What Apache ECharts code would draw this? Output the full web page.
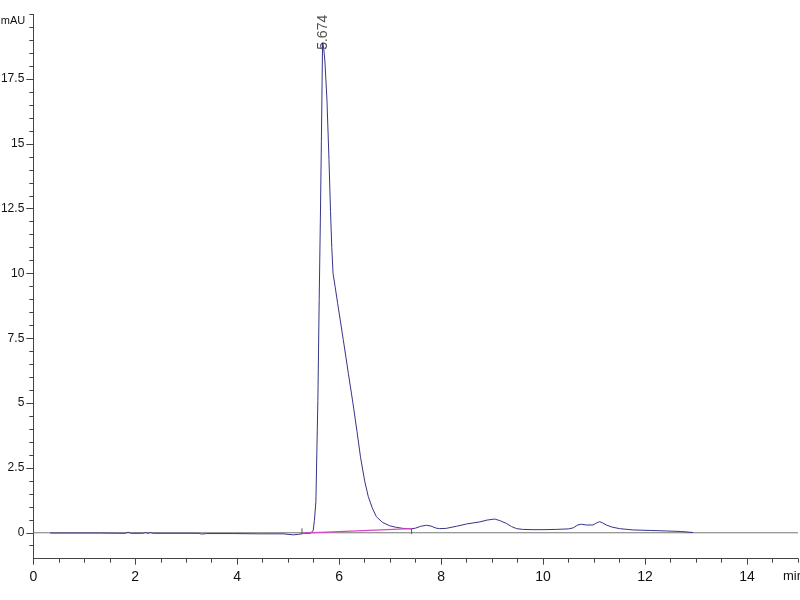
<!DOCTYPE html>
<html>
<head>
<meta charset="utf-8">
<script src="https://cdn.jsdelivr.net/npm/echarts@6/dist/echarts.min.js"></script>
<style>html,body{margin:0;padding:0;background:#fff}#c{width:800px;height:600px}</style>
</head>
<body>
<div id="c"></div>
<script>
// ---- data ----
var traceData = [
  [0.33,-0.01],[0.8,-0.01],[1.3,-0.01],[1.8,-0.02],[1.86,0.02],[1.92,-0.02],[2.15,-0.02],[2.2,0.01],[2.25,-0.02],[2.3,0.01],[2.35,-0.02],
  [2.8,-0.02],[3.25,-0.02],[3.3,-0.05],[3.4,-0.03],[3.9,-0.03],[4.4,-0.04],[4.43,-0.01],[4.46,-0.04],[4.9,-0.04],[5.1,-0.08],[5.2,-0.06],
  [5.3,-0.03],[5.43,-0.02],
  [5.46,0.0],[5.49,0.08],[5.514,0.48],[5.543,1.2],[5.563,3.2],[5.582,5.1],[5.608,9.0],[5.631,12.1],[5.651,15.1],[5.665,17.4],[5.674,18.9],
  [5.69,18.8],[5.72,18.2],[5.76,16.7],[5.80,14.4],[5.83,12.4],[5.855,11.0],[5.88,10.0],[5.92,9.5],[5.97,8.85],[6.08,7.45],[6.18,6.15],[6.27,5.0],[6.35,3.9],
  [6.42,2.9],[6.5,2.0],[6.57,1.4],[6.65,0.95],[6.73,0.62],[6.85,0.4],[6.99,0.27],[7.12,0.21],[7.25,0.17],[7.41,0.15],
  [7.5,0.18],[7.6,0.25],[7.71,0.29],[7.8,0.26],[7.9,0.18],[7.97,0.16],[8.1,0.17],[8.3,0.25],[8.5,0.34],[8.76,0.42],[8.9,0.49],
  [9.05,0.53],[9.15,0.47],[9.28,0.36],[9.38,0.24],[9.48,0.16],[9.6,0.13],[9.8,0.12],[10.0,0.12],[10.26,0.13],[10.5,0.15],[10.59,0.19],
  [10.68,0.3],[10.75,0.33],[10.85,0.3],[10.98,0.3],[11.05,0.38],[11.11,0.43],[11.17,0.38],[11.24,0.3],[11.35,0.22],[11.5,0.16],
  [11.76,0.11],[12.1,0.09],[12.42,0.07],[12.7,0.05],[12.94,0.01]
];
var zeroLine = [[0,0],[15,0]];
var integrationBaseline = [[5.27,-0.01],[7.42,0.16]];
var peakStartMark = [[5.27,-0.03],[5.27,0.17]];
var peakEndMark = [[7.42,0.15],[7.42,-0.04]];
var peakLabelPoint = [[5.674,18.9]];
var peakLabelText = '5.674';

var xTickLabels = [0,2,4,6,8,10,12,14];
var xMinorTicks = [0.5,1,1.5,2.5,3,3.5,4.5,5,5.5,6.5,7,7.5,8.5,9,9.5,10.5,11,11.5,12.5,13,13.5,14.5,15];
var yTickLabels = [0,2.5,5,7.5,10,12.5,15,17.5];
var yMinorTicks = [-0.5,0.5,1,1.5,2,3,3.5,4,4.5,5.5,6,6.5,7,8,8.5,9,9.5,10.5,11,11.5,12,13,13.5,14,14.5,15.5,16,16.5,17,18,18.5,19,19.5,20];

var labelFont = "'Liberation Sans Narrow','Liberation Sans',sans-serif";
var axisColor = '#444';

var chart = echarts.init(document.getElementById('c'), null, {renderer:'canvas'});
chart.setOption({
  animation: false,
  backgroundColor: '#fff',
  grid: {left: 33.3, right: 2, top: 14.3, bottom: 41.3, containLabel: false, outerBoundsMode: 'none'},
  xAxis: [
    {type:'value', min:0, max:15, position:'bottom',
     axisLine:{onZero:false, lineStyle:{color:axisColor, width:1}},
     axisTick:{customValues:xTickLabels, length:6, lineStyle:{color:axisColor}},
     axisLabel:{customValues:xTickLabels, fontSize:14, fontFamily:labelFont, color:'#111', margin:11},
     splitLine:{show:false},
     name:'min', nameLocation:'end', nameGap:-15,
     nameTextStyle:{fontSize:13, fontFamily:labelFont, color:'#111', align:'left', verticalAlign:'top', padding:[11,0,0,0]}
    },
    {type:'value', min:0, max:15, position:'bottom',
     axisLine:{show:false, onZero:false},
     axisTick:{customValues:xMinorTicks, length:4, lineStyle:{color:axisColor}},
     axisLabel:{show:false}, splitLine:{show:false}
    }
  ],
  yAxis: [
    {type:'value', min:-1, max:20, position:'left',
     axisLine:{show:true, onZero:false, lineStyle:{color:axisColor, width:1}},
     axisTick:{customValues:yTickLabels, length:7, lineStyle:{color:axisColor}},
     axisLabel:{customValues:yTickLabels, fontSize:12, fontFamily:labelFont, color:'#111', margin:9},
     splitLine:{show:false},
     name:'mAU', nameLocation:'end', nameGap:-7,
     nameTextStyle:{fontSize:11, fontFamily:labelFont, color:'#111', align:'right', verticalAlign:'middle', padding:[0,8,0,0]}
    },
    {type:'value', min:-1, max:20, position:'left',
     axisLine:{show:false, onZero:false},
     axisTick:{customValues:yMinorTicks, length:4, lineStyle:{color:axisColor}},
     axisLabel:{show:false}, splitLine:{show:false}
    }
  ],
  series: [
    {type:'line', name:'zero', data:zeroLine, xAxisIndex:0, yAxisIndex:0, symbol:'none', silent:true,
     lineStyle:{color:'#777', width:1}, z:1},
    {type:'line', name:'baseline', data:integrationBaseline, xAxisIndex:0, yAxisIndex:0, symbol:'none', silent:true,
     lineStyle:{color:'#dd44c4', width:1.2}, z:3},
    {type:'line', name:'signal', data:traceData, xAxisIndex:0, yAxisIndex:0, symbol:'none', silent:true,
     lineStyle:{color:'#35358a', width:1}, z:2},
    {type:'line', name:'start', data:peakStartMark, xAxisIndex:0, yAxisIndex:0, symbol:'none', silent:true,
     lineStyle:{color:'#555', width:1}, z:4},
    {type:'line', name:'end', data:peakEndMark, xAxisIndex:0, yAxisIndex:0, symbol:'none', silent:true,
     lineStyle:{color:'#555', width:1}, z:4},
    {type:'scatter', name:'label', data:peakLabelPoint, xAxisIndex:0, yAxisIndex:0, symbolSize:0, silent:true, z:5,
     label:{show:true, formatter:peakLabelText, rotate:90, position:[0,0], align:'left', verticalAlign:'middle',
            offset:[-7,1], fontSize:14, fontFamily:"'Liberation Sans',sans-serif", color:'#222'}}
  ]
});
</script>
</body>
</html>
